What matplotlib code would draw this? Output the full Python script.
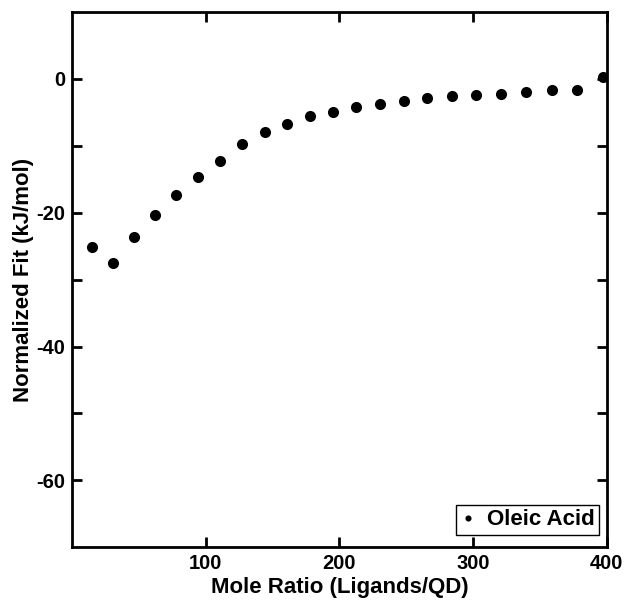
import matplotlib
matplotlib.use('Agg')
import matplotlib.pyplot as plt
from matplotlib.ticker import MultipleLocator

# values
mole_ratio = [14.6, 30.3, 46.0, 62.0, 77.8, 94.3, 110.5, 127.0, 144.0, 160.8,
              178.0, 195.0, 212.5, 230.0, 248.2, 265.8, 284.2, 302.5, 321.0,
              340.0, 358.8, 377.8, 397.0]
normalized_fit = [-25.1, -27.5, -23.6, -20.4, -17.4, -14.6, -12.2, -9.8, -8.0,
                  -6.7, -5.6, -4.9, -4.2, -3.8, -3.3, -2.9, -2.6, -2.45, -2.2,
                  -2.0, -1.7, -1.6, 0.25]
series_label = 'Oleic Acid'
x_label = 'Mole Ratio (Ligands/QD)'
y_label = 'Normalized Fit (kJ/mol)'

plt.rcParams['font.family'] = ['Liberation Sans', 'DejaVu Sans']
plt.rcParams['font.weight'] = 'bold'

fig = plt.figure(figsize=(6.26, 6.02), dpi=100)
ax = fig.add_axes([0.1155, 0.091, 0.8535, 0.889])

ax.plot(mole_ratio, normalized_fit, 'o', color='black', markersize=8,
        markeredgewidth=0, label=series_label)

ax.set_xlim(0, 400)
ax.set_ylim(-70, 10)
ax.set_yticks([0, -20, -40, -60], labels=['0', '-20', '-40', '-60'])
ax.set_yticks([-10, -30, -50], minor=True)
ax.set_xticks([100, 200, 300, 400], labels=['100', '200', '300', '400'])

for spine in ax.spines.values():
    spine.set_linewidth(2)

ax.tick_params(axis='both', which='both', direction='in', top=True, right=True,
               length=7, width=2, labelsize=14.5, pad=5)

ax.set_xlabel(x_label, fontsize=16, fontweight='bold', labelpad=3)
ax.set_ylabel(y_label, fontsize=16, fontweight='bold', labelpad=2)

leg = ax.legend(loc='lower right', bbox_to_anchor=(0.9856, 0.023),
                fontsize=16, markerscale=0.55, handlelength=0.7,
                handletextpad=0.5, borderpad=0.2, borderaxespad=0,
                fancybox=False, framealpha=1, edgecolor='black')
leg.get_frame().set_linewidth(1)

fig.savefig('out.png', dpi=100)
